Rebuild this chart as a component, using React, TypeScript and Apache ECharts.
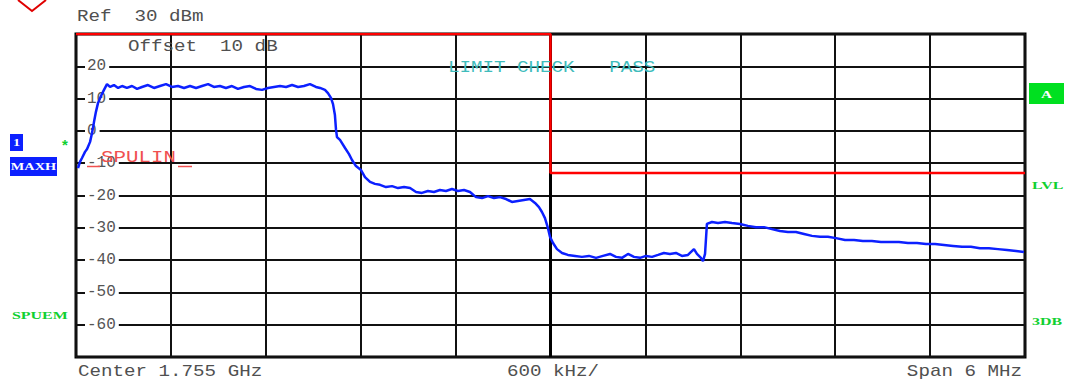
import React, { useEffect, useRef } from "react";
import * as echarts from "echarts";

// Trace 1 (MAXH): frequency offset from center (kHz) and level (dBm)
const FREQ_KHZ = [
  -2987, -2975, -2962, -2943, -2930, -2911, -2899, -2886, -2874, -2861, -2842, -2823, -2804, -2785, -2760,
  -2734, -2709, -2678, -2646, -2614, -2583, -2545, -2507, -2469, -2431, -2393, -2355, -2317, -2279, -2241,
  -2203, -2165, -2128, -2090, -2052, -2014, -1976, -1938, -1900, -1862, -1824, -1786, -1748, -1710, -1672,
  -1634, -1596, -1559, -1521, -1483, -1457, -1426, -1407, -1388, -1375, -1363, -1356, -1350, -1331, -1299,
  -1274, -1255, -1230, -1198, -1173, -1141, -1110, -1078, -1040, -1002, -964, -926, -888, -850, -813,
  -775, -737, -699, -661, -623, -585, -547, -509, -471, -433, -395, -357, -319, -281, -244,
  -206, -168, -130, -98, -73, -54, -35, -16, -3, 16, 41, 73, 110, 155, 199,
  243, 288, 332, 376, 414, 452, 490, 528, 566, 604, 642, 680, 717, 755, 793,
  831, 869, 907, 926, 951, 964, 977, 989, 1021, 1059, 1103, 1147, 1198, 1248, 1299,
  1350, 1400, 1451, 1501, 1552, 1603, 1653, 1704, 1754, 1805, 1862, 1919, 1975, 2032, 2089,
  2146, 2203, 2260, 2317, 2374, 2431, 2488, 2545, 2602, 2658, 2715, 2772, 2829, 2886, 2943,
  2993,
];
const LEVEL_DBM = [
  -11.5, -9.6, -8.4, -6.5, -5.6, -3.4, -0.7, 2.8, 5.9, 8.6, 10.8, 12.7, 14.5, 13.6, 14.2,
  13.3, 13.9, 13.3, 13.9, 13.0, 13.6, 14.2, 13.3, 13.9, 14.5, 13.6, 13.9, 13.3, 13.9, 13.3,
  13.9, 14.5, 13.6, 13.9, 13.3, 13.9, 13.0, 13.6, 13.9, 13.0, 12.7, 13.3, 13.6, 13.9, 13.6,
  14.2, 13.6, 13.9, 14.5, 13.6, 13.3, 12.7, 11.7, 10.2, 8.3, 4.9, 0.3, -1.9, -2.8, -5.3,
  -7.2, -9.0, -10.9, -12.1, -14.3, -15.8, -16.4, -16.7, -17.4, -17.1, -17.7, -17.4, -17.7, -18.9, -19.2,
  -18.6, -18.9, -18.3, -18.6, -18.0, -18.6, -18.3, -18.9, -20.5, -20.8, -20.2, -20.8, -20.5, -21.1, -22.0,
  -21.7, -21.4, -21.1, -22.3, -23.6, -25.1, -27.0, -30.1, -32.8, -34.7, -36.6, -37.8, -38.4, -38.7, -39.0,
  -38.7, -39.3, -38.7, -38.1, -39.0, -39.3, -38.1, -39.0, -39.3, -38.7, -39.0, -38.4, -37.8, -38.1, -37.8,
  -38.7, -38.4, -36.6, -38.1, -39.3, -40.3, -38.1, -28.8, -28.2, -28.5, -28.2, -28.5, -28.8, -29.4, -29.8,
  -29.8, -30.4, -31.0, -31.3, -31.3, -31.9, -32.5, -32.8, -32.8, -33.2, -33.8, -33.8, -34.1, -34.1, -34.4,
  -34.4, -34.4, -34.7, -34.7, -35.0, -35.0, -35.3, -35.6, -35.9, -35.9, -36.3, -36.3, -36.6, -36.9, -37.2,
  -37.5,
];

// Limit line
const LIMIT_KHZ = [-3000, 0, 0, 3000];
const LIMIT_DBM = [30, 30, -13, -13];

// Axes
const X_MIN = -3000;
const X_MAX = 3000;
const X_STEP = 600;
const Y_MIN = -70;
const Y_MAX = 30;
const Y_STEP = 10;

const MONO = "'Liberation Mono', 'DejaVu Sans Mono', monospace";
const SERIF_B = "bold 11px 'Liberation Serif', 'DejaVu Serif', serif";
const GREEN = "#10d030";
const TEXT_GREY = "#505050";
const BLUE = "#0c20ff";
const LABEL_RED = "#f05050";

const monoText = (text: string, x: number, y: number, align: string, fill = TEXT_GREY, sx = 1.2) => ({
  type: "text",
  x,
  y,
  z: 100,
  scaleX: sx,
  silent: true,
  style: {
    text,
    font: `16px ${MONO}`,
    fill,
    align,
    verticalAlign: "middle",
  },
});

const serifText = (text: string, x: number, y: number, fill: string, sx = 1.45, align = "left") => ({
  type: "text",
  x,
  y,
  z: 100,
  scaleX: sx,
  silent: true,
  style: { text, font: SERIF_B, fill, align, verticalAlign: "middle" },
});

export default function App() {
  const ref = useRef<HTMLDivElement>(null);
  useEffect(() => {
    const chart = echarts.init(ref.current!, null, { renderer: "svg" });
    const trace = FREQ_KHZ.map((f, i) => [f, LEVEL_DBM[i]]);
    const limit = LIMIT_KHZ.map((f, i) => [f, LIMIT_DBM[i]]);
    chart.setOption({
      animation: false,
      backgroundColor: "#ffffff",
      grid: {
        left: 76,
        right: 43,
        top: 34,
        bottom: 23,
        show: true,
        borderColor: "#000",
        borderWidth: 3,
        backgroundColor: "transparent",
      },
      xAxis: {
        type: "value",
        min: X_MIN,
        max: X_MAX,
        interval: X_STEP,
        axisLine: { show: false },
        axisTick: { show: false },
        axisLabel: { show: false },
        splitLine: { show: true, lineStyle: { color: "#111", width: 2 } },
      },
      yAxis: {
        type: "value",
        min: Y_MIN,
        max: Y_MAX,
        interval: Y_STEP,
        axisLine: { show: false },
        axisTick: { show: true, inside: true, length: 9, lineStyle: { color: "#111", width: 2 } },
        axisLabel: {
          inside: true,
          margin: 9,
          showMinLabel: false,
          showMaxLabel: false,
          fontFamily: MONO,
          fontSize: 16,
          color: "#555",
          backgroundColor: "#fff",
          padding: [0, 3, 0, 2],
        },
        splitLine: { show: true, lineStyle: { color: "#111", width: 2 } },
      },
      series: [
        {
          type: "line",
          data: [
            [0, Y_MIN],
            [0, Y_MAX],
          ],
          symbol: "none",
          silent: true,
          lineStyle: { color: "#000", width: 3 },
          z: 1,
        },
        {
          type: "line",
          data: limit,
          symbol: "none",
          silent: true,
          lineStyle: { color: "#ff0000", width: 2.5 },
          z: 2,
        },
        {
          type: "line",
          data: trace,
          symbol: "none",
          silent: true,
          lineStyle: { color: BLUE, width: 2.5 },
          z: 3,
        },
      ],
      graphic: [
        {
          type: "polyline",
          silent: true,
          z: 100,
          shape: {
            points: [
              [18, 0],
              [32, 11],
              [46, 0],
            ],
          },
          style: { stroke: "#e00000", lineWidth: 2, fill: "none" },
        },
        monoText("Ref  30 dBm", 77, 16, "left"),
        monoText("Offset  10 dB", 128, 46, "left"),
        monoText("LIMIT CHECK   PASS", 448, 67, "left", "#40bcbc"),
        monoText("SPULIN", 101, 158, "left", LABEL_RED, 1.3),
        {
          type: "line",
          silent: true,
          z: 100,
          shape: { x1: 87, y1: 166.5, x2: 100, y2: 166.5 },
          style: { stroke: LABEL_RED, lineWidth: 1.5 },
        },
        {
          type: "line",
          silent: true,
          z: 100,
          shape: { x1: 178, y1: 166.5, x2: 192, y2: 166.5 },
          style: { stroke: LABEL_RED, lineWidth: 1.5 },
        },
        monoText("Center 1.755 GHz", 78, 371, "left"),
        monoText("600 kHz/", 553, 371, "center"),
        monoText("Span 6 MHz", 1022, 371, "right"),
        {
          type: "rect",
          silent: true,
          z: 99,
          shape: { x: 10, y: 134, width: 13, height: 17 },
          style: { fill: BLUE },
        },
        serifText("1", 16.5, 143, "#fff", 1.3, "center"),
        {
          type: "rect",
          silent: true,
          z: 99,
          shape: { x: 10, y: 157, width: 47, height: 19 },
          style: { fill: BLUE },
        },
        serifText("MAXH", 33.5, 167, "#fff", 1.3, "center"),
        {
          type: "text",
          x: 65,
          y: 144,
          z: 100,
          silent: true,
          style: { text: "*", font: "bold 15px 'Liberation Sans', sans-serif", fill: GREEN, align: "center", verticalAlign: "middle" },
        },
        serifText("SPUEM", 12, 315, GREEN),
        {
          type: "rect",
          silent: true,
          z: 99,
          shape: { x: 1029, y: 83, width: 35, height: 21 },
          style: { fill: "#00e020" },
        },
        serifText("A", 1046.5, 94, "#fff", 1.4, "center"),
        serifText("LVL", 1032, 185, GREEN),
        serifText("3DB", 1032, 321, GREEN),
      ],
    });
    return () => chart.dispose();
  }, []);
  return (
    <div
      ref={ref}
      style={{ position: "absolute", left: 0, top: 0, width: 1068, height: 380, background: "#fff" }}
    />
  );
}
